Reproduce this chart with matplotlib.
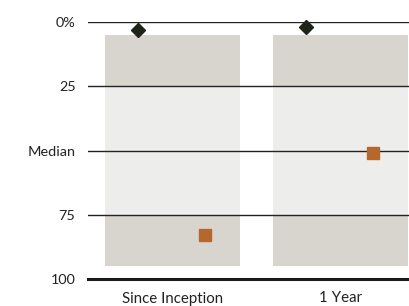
import numpy as np
import matplotlib.pyplot as plt

categories = ['Since Inception', '1 Year']
band_low = [5, 5]
q1 = [25, 25]
q3 = [75, 75]
band_high = [95, 95]
fund_rank = [83, 51]
index_rank = [3, 2]

ticks = [0, 25, 50, 75, 100]
tick_labels = ['0%', '25', 'Median', '75', '100']

plt.rcParams['font.family'] = ['Lato', 'DejaVu Sans']

fig = plt.figure(figsize=(4.1, 3.06), dpi=100)
ax = fig.add_axes([88 / 410, 1 - 279 / 306, 322 / 410, 257 / 306])

x = np.arange(len(categories))
w = 0.8
dark = '#d8d5cf'
light = '#ededec'
ax.bar(x, np.array(q1) - band_low, bottom=band_low, width=w, color=dark, zorder=1)
ax.bar(x, np.array(q3) - q1, bottom=q1, width=w, color=light, zorder=1)
ax.bar(x, np.array(band_high) - q3, bottom=q3, width=w, color=dark, zorder=1)

for t in ticks[:-1]:
    ax.axhline(t, color='#222222', lw=1.0, zorder=2)
ax.axhline(100, color='#1a1a1a', lw=2.2, zorder=2, clip_on=False)

ax.plot(x - 0.205, index_rank, 'D', color='#1f2418', ms=7.5, zorder=3, clip_on=False)
ax.plot(x + 0.195, fund_rank, 's', color='#b5682e', ms=8, zorder=3)

ax.set_xlim(-0.503, 1.414)
ax.set_ylim(100, 0)
ax.set_yticks(ticks)
ax.set_yticklabels(tick_labels, fontsize=10.4, color='#222222')
ax.set_xticks(x)
ax.set_xticklabels(categories, fontsize=10.8, color='#222222')
ax.tick_params(axis='y', length=0, pad=9)
ax.tick_params(axis='x', length=0, pad=9)
for s in ax.spines.values():
    s.set_visible(False)

fig.savefig('out.png', dpi=100)
